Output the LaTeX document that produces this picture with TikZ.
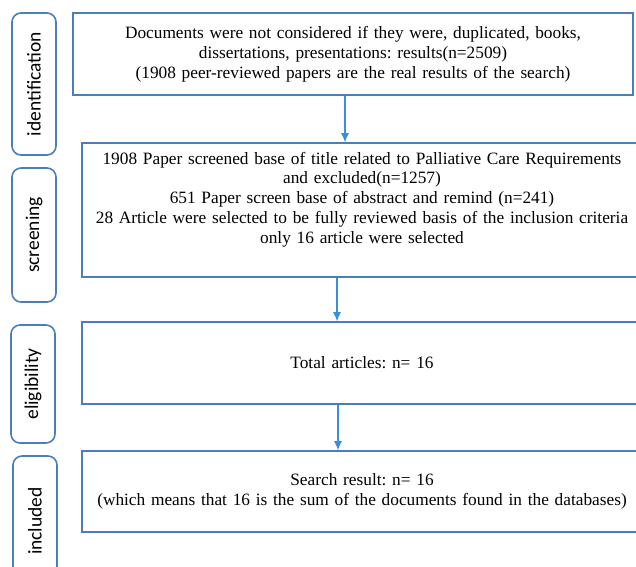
\documentclass[tikz,border=0pt]{standalone}
\usepackage{fontspec}
\setmainfont{Liberation Serif}
\newfontfamily\labelfont{Carlito}
\usetikzlibrary{positioning,arrows.meta}
\definecolor{boxblue}{RGB}{74,126,187}
\definecolor{arrowblue}{RGB}{58,142,219}
\frenchspacing

\begin{document}
\begin{tikzpicture}[x=1pt, y=-1pt,%
            stage/.style={draw=boxblue, line width=1.6pt, rounded corners=9pt,
                minimum width=44pt, inner sep=0pt, font=\labelfont\fontsize{19.5}{22}\selectfont},
            box/.style={draw=boxblue, line width=1.6pt, inner sep=0pt, align=center,
                font=\fontsize{17.3}{19.8}\selectfont},
            arrow/.style={-{Latex[length=9pt,width=8pt]}, draw=arrowblue, line width=1.1pt}
        ]
        \useasboundingbox (0,0) rectangle (636,566);

        % Stage labels on the left
        \node[stage, minimum height=142pt] (ident) at (34,84) {\rotatebox{90}{identification}};
        \node[stage, minimum height=134pt] (screen) at (34,235) {\rotatebox{90}{screening}};
        \node[stage, minimum height=118pt] (elig) at (33,384) {\rotatebox{90}{eligibility}};
        \node[stage, minimum height=130pt] (incl) at (35,521) {\rotatebox{90}{included}};

        % Flow boxes
        \node[box, minimum width=560pt, minimum height=82pt, text width=555pt] (docs) at (353,54)
            {Documents were not considered if they were, duplicated, books,\\
             dissertations, presentations: results(n=2509)\\
             (1908 peer-reviewed papers are the real results of the search)};
        \node[box, minimum width=560pt, minimum height=134pt, text width=555pt, text depth=104pt] (screened) at (362,210)
            {1908 Paper screened base of title related to Palliative Care Requirements\\
             and excluded(n=1257)\\
             651 Paper screen base of abstract and remind (n=241)\\
             28 Article were selected to be fully reviewed basis of the inclusion criteria\\
             only 16 article were selected};
        \node[box, minimum width=560pt, minimum height=82pt, text width=555pt] (total) at (362,363)
            {Total articles: n= 16};
        \node[box, minimum width=560pt, minimum height=81pt, text width=555pt] (result) at (362,491.5)
            {Search result: n= 16\\
             (which means that 16 is the sum of the documents found in the databases)};

        % Arrows between the boxes
        \draw[arrow] (docs.south -| 345,0) -- (screened.north -| 345,0);
        \draw[arrow] (screened.south -| 337,0) -- (total.north -| 337,0);
        \draw[arrow] (total.south -| 338,0) -- (result.north -| 338,0);

        \end{tikzpicture}
\end{document}
